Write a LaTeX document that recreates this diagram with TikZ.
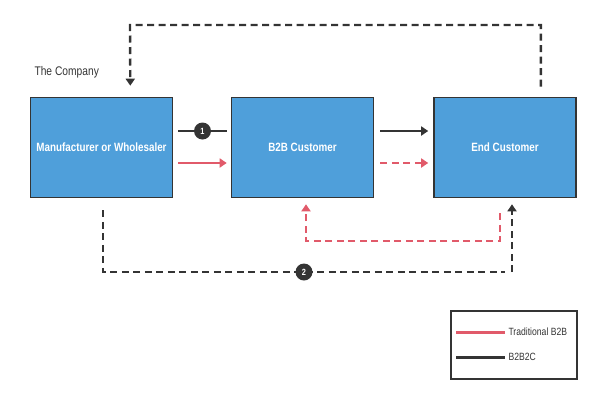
\documentclass[tikz,border=0pt]{standalone}
\usepackage{fontspec}
\setmainfont{Liberation Sans}[FakeStretch=0.82]
\usepackage{xcolor}
\usetikzlibrary{arrows.meta,positioning}
\definecolor{boxblue}{HTML}{4F9FDA}
\definecolor{lred}{HTML}{E15A6A}
\definecolor{ldark}{HTML}{343434}

\begin{document}
\begin{tikzpicture}[x=1pt, y=-1pt,
  party/.style={draw=ldark, line width=1.6pt, fill=boxblue, minimum width=142pt,
    minimum height=100pt, text=white, font=\fontsize{12}{14}\selectfont\bfseries},
  flow/.style={line width=2.4pt, -{Triangle[length=7pt,width=9pt]}},
  dashflow/.style={flow, dash pattern=on 7pt off 4.5pt},
  num/.style={circle, fill=ldark, text=white, inner sep=0pt, minimum size=17pt,
    font=\fontsize{9}{10}\selectfont\bfseries}]
  \useasboundingbox (0,0) rectangle (600,400);

  % boxes
  \node[party] (mw)  at (101.5,147.5) {Manufacturer or Wholesaler};
  \node[party] (b2b) at (302.5,147.5) {B2B Customer};
  \node[party] (end) at (505,147.5)   {End Customer};
  \node[right,text=ldark,font=\fontsize{12.5}{14}\selectfont] (co) at (31,72) {The Company};

  % direct flows
  \draw[flow,ldark,-] ([xshift=5pt,yshift=16.5pt]mw.east) -- node[num] (one) {1}
    ([xshift=-4pt,yshift=16.5pt]b2b.west);
  \draw[flow,lred] ([xshift=5pt,yshift=-15.5pt]mw.east) -- ([xshift=-4pt,yshift=-15.5pt]b2b.west);
  \draw[flow,ldark] ([xshift=6pt,yshift=16.5pt]b2b.east) -- ([xshift=-5pt,yshift=16.5pt]end.west);
  \draw[dashflow,lred] ([xshift=6pt,yshift=-15.5pt]b2b.east) -- ([xshift=-5pt,yshift=-15.5pt]end.west);

  % feedback over the top
  \coordinate (topR) at (541,25);
  \coordinate (topL) at (130,25);
  \draw[dashflow,ldark] ([xshift=-36pt,yshift=10pt]end.north east) |- (topL)
    -- ([xshift=-43pt,yshift=11pt]mw.north east);

  % loops underneath
  \coordinate (botL) at (103,272);
  \coordinate (redR) at (500,241);
  \draw[dashflow,ldark] ([xshift=1.5pt,yshift=-12pt]mw.south) -- (botL)
    -- node[num] (two) {2} (botL -| end.south) ++(7,0) coordinate (botR)
    -- ([xshift=7pt,yshift=-6pt]end.south);
  \draw[dashflow,lred] ([yshift=-15pt]redR |- end.south) -- (redR)
    -- ([xshift=3.5pt]redR -| b2b.south) -- ([xshift=3.5pt,yshift=-6pt]b2b.south);

  % legend
  \node[draw=ldark, line width=1.4pt, minimum width=126pt, minimum height=68pt] (key) at (514,345) {};
  \draw[lred,line width=3pt] (456,332) coordinate (kr1) -- (505,332) coordinate (kr2);
  \draw[ldark,line width=3pt] (456,357) coordinate (kb1) -- (505,357) coordinate (kb2);
  \node[right,text=ldark,font=\fontsize{10.5}{12}\selectfont] (ktrad) at (kr2) {Traditional B2B};
  \node[right,text=ldark,font=\fontsize{10.5}{12}\selectfont] (kbbc) at (kb2) {B2B2C};
\end{tikzpicture}
\end{document}
